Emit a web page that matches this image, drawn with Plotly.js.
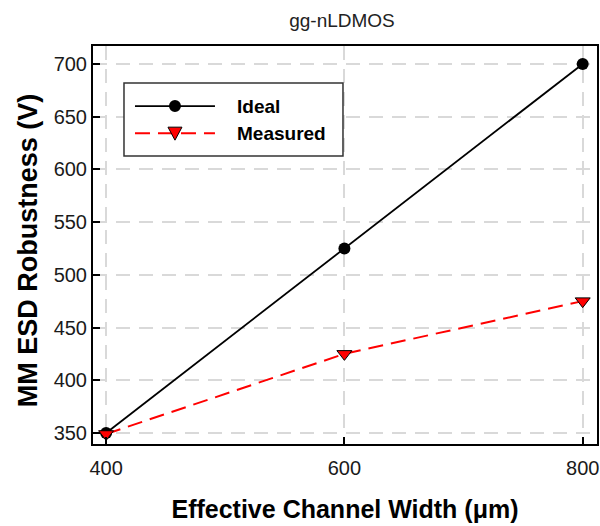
<!DOCTYPE html>
<html><head><meta charset="utf-8">
<script src="https://cdn.plot.ly/plotly-3.0.1.min.js"></script>
<style>body{margin:0;background:#fff}</style>
</head><body>
<div id="chart" style="width:600px;height:526px"></div>
<script>
const widths = [400, 600, 800];
const ideal = [350, 525, 700];
const measured = [349, 425, 475];
const seriesNames = ['Ideal', 'Measured'];
const xTicks = [400, 600, 800];
const yTicks = [350, 400, 450, 500, 550, 600, 650, 700];

const FONT = 'Liberation Sans, Arial, sans-serif';
const traces = [
  {x: widths, y: ideal, name: seriesNames[0], mode: 'lines+markers',
   line: {color: '#000', width: 1.8},
   marker: {symbol: 'circle', size: 12, color: '#000'}},
  {x: widths, y: measured, name: seriesNames[1], mode: 'lines+markers',
   line: {color: '#ff0000', width: 2, dash: '15px,8px'},
   marker: {symbol: 'triangle-down', size: 13, color: '#ff0000', line: {color: '#000', width: 1}}}
];
const axisCommon = {
  showline: true, mirror: true, linecolor: '#000', linewidth: 2,
  ticks: 'inside', ticklen: 7, tickwidth: 2, tickcolor: '#000',
  showgrid: true, gridcolor: '#d9d9d9', griddash: '14px,9px', gridwidth: 1.5,
  zeroline: false, tickfont: {family: FONT, size: 20, color: '#1a1a1a'}
};

// custom legend (plot-area fraction coordinates)
const lg = {x0: 0.0615, x1: 0.496, y0: 0.7236, y1: 0.907,
            lx0: 0.0833, lx1: 0.242, tx: 0.282, rows: [0.849, 0.781]};
const lmx = (lg.lx0 + lg.lx1) / 2;
const shapes = [
  {type: 'rect', xref: 'paper', yref: 'paper', x0: lg.x0, x1: lg.x1, y0: lg.y0, y1: lg.y1,
   line: {color: '#333', width: 1.5}, fillcolor: '#fff', layer: 'above'},
  {type: 'line', xref: 'paper', yref: 'paper', x0: lg.lx0, x1: lg.lx1, y0: lg.rows[0], y1: lg.rows[0],
   line: {color: '#000', width: 1.8}, layer: 'above'},
  {type: 'circle', xref: 'paper', yref: 'paper', xsizemode: 'pixel', ysizemode: 'pixel',
   xanchor: lmx, yanchor: lg.rows[0], x0: -6, x1: 6, y0: -6, y1: 6,
   fillcolor: '#000', line: {color: '#000', width: 0}, layer: 'above'},
  {type: 'line', xref: 'paper', yref: 'paper', x0: lg.lx0, x1: lg.lx1, y0: lg.rows[1], y1: lg.rows[1],
   line: {color: '#ff0000', width: 2, dash: '15px,8px'}, layer: 'above'},
  {type: 'path', xref: 'paper', yref: 'paper', xsizemode: 'pixel', ysizemode: 'pixel',
   xanchor: lmx, yanchor: lg.rows[1], path: 'M -7 6 L 7 6 L 0 -7 Z',
   fillcolor: '#ff0000', line: {color: '#000', width: 1}, layer: 'above'}
];
const annotations = seriesNames.map((n, i) => ({
  xref: 'paper', yref: 'paper', x: lg.tx, y: lg.rows[i], xanchor: 'left', yanchor: 'middle',
  text: '<b>' + n + '</b>', showarrow: false, font: {family: FONT, size: 19, color: '#000'}
}));
annotations.push({
  xref: 'paper', yref: 'paper', x: -0.129, y: 0.487, xanchor: 'center', yanchor: 'middle',
  textangle: -90, text: '<b>MM ESD Robustness (V)</b>', showarrow: false,
  font: {family: FONT, size: 27, color: '#000'}
});

const layout = {
  width: 600, height: 526,
  margin: {l: 93, r: 3, t: 46, b: 82},
  paper_bgcolor: '#fff', plot_bgcolor: '#fff',
  title: {text: 'gg-nLDMOS', x: 0.57, xanchor: 'center', y: 0.962, yanchor: 'middle',
          font: {family: FONT, size: 19, color: '#222'}},
  xaxis: Object.assign({}, axisCommon, {
    range: [389, 812], tickvals: xTicks, ticktext: xTicks.map(String), ticklabelstandoff: 5,
    title: {text: '<b>Effective Channel Width (μm)</b>', standoff: 22,
            font: {family: FONT, size: 25, color: '#000'}}
  }),
  yaxis: Object.assign({}, axisCommon, {
    range: [339.5, 717], tickvals: yTicks, ticktext: yTicks.map(String)
  }),
  showlegend: false,
  shapes: shapes,
  annotations: annotations
};
Plotly.newPlot('chart', traces, layout, {displayModeBar: false});
</script>
</body></html>
